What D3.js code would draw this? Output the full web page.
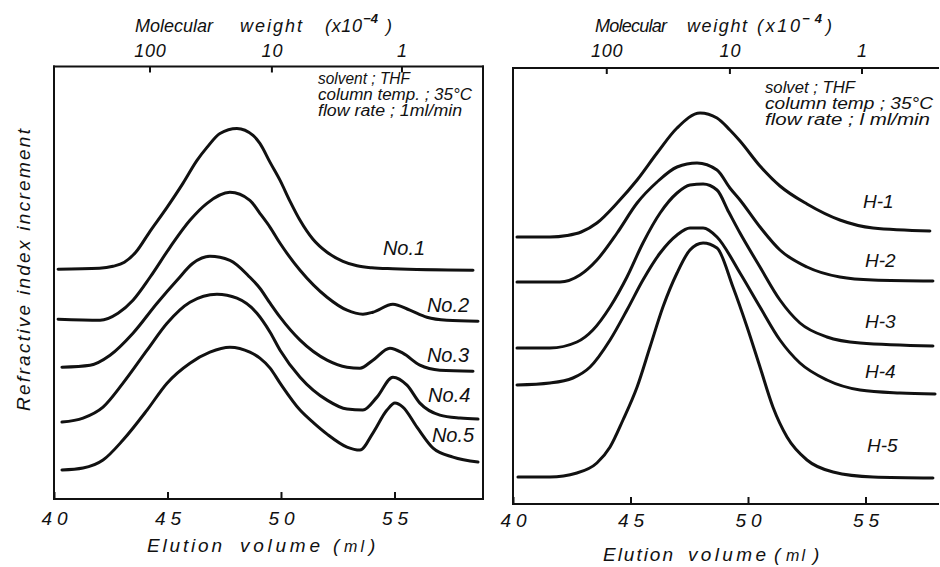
<!DOCTYPE html>
<html><head><meta charset="utf-8">
<script src="https://cdn.jsdelivr.net/npm/d3@7"></script>
<style>
body{margin:0;background:#fff}
text{font-family:"Liberation Sans",Arial,sans-serif;font-style:italic;fill:#111}
</style>
</head><body>
<svg id="chart" width="940" height="567"></svg>
<script>
// ---------- data ----------
const volumeTicks = [40, 45, 50, 55];
const mwTickLabels = ["100", "10", "1"];
const mwTickVolumesLeft = [44.23, 49.60, 55.33];
const mwTickVolumesRight = [43.99, 49.23, 54.85];

const leftNames = ["No.1", "No.2", "No.3", "No.4", "No.5"];
const no1Vol = [40.18, 42.0, 42.6, 43.1, 43.6, 44.23, 44.98, 45.68, 46.30, 46.74, 47.31, 48.06, 48.77, 49.07, 49.52, 49.96, 50.40, 50.84, 51.41, 52.03, 52.73, 53.35, 54.0, 54.93, 58.46];
const no1Val = [46.0, 46.2, 46.6, 47.4, 49.4, 53.6, 58.4, 63.2, 67.8, 70.4, 73.2, 74.2, 72.8, 71.2, 67.4, 63.8, 59.6, 55.8, 52.0, 49.4, 47.6, 46.7, 46.3, 46.1, 45.8];
const no2Vol = [40.18, 42.03, 42.82, 43.48, 44.23, 45.11, 45.99, 46.74, 47.75, 48.63, 49.07, 49.52, 49.96, 50.84, 52.03, 52.91, 53.61, 54.05, 54.93, 55.68, 56.43, 57.31, 58.68];
const no2Val = [36.0, 35.8, 37.2, 39.8, 44.4, 50.4, 55.8, 59.2, 61.4, 59.8, 57.2, 54.4, 51.2, 45.8, 40.4, 37.8, 37.0, 37.4, 39.0, 37.8, 36.4, 35.8, 35.6];
const no3Vol = [40.35, 41.59, 42.47, 43.48, 44.54, 45.42, 46.12, 46.87, 47.75, 48.63, 49.07, 49.52, 49.96, 50.84, 52.03, 52.91, 53.48, 54.05, 54.80, 55.37, 56.12, 57.00, 58.46];
const no3Val = [26.4, 26.8, 28.8, 33.2, 39.2, 43.8, 47.2, 48.6, 47.8, 44.4, 42.2, 39.2, 36.4, 31.8, 27.8, 26.4, 26.2, 27.8, 30.2, 29.2, 26.8, 25.8, 25.6];
const no4Vol = [40.35, 41.28, 42.16, 43.04, 44.10, 44.98, 45.99, 47.18, 48.06, 48.94, 49.52, 49.96, 50.84, 52.03, 52.91, 53.61, 54.23, 54.93, 55.55, 56.12, 57.00, 57.89, 58.68];
const no4Val = [15.4, 16.2, 18.4, 23.2, 29.8, 35.2, 39.4, 41.0, 40.2, 37.2, 33.4, 29.8, 24.4, 19.8, 18.0, 17.8, 20.4, 24.4, 22.8, 19.2, 16.8, 16.2, 16.0];
const no5Vol = [40.35, 41.28, 42.16, 43.04, 44.10, 44.98, 45.99, 46.87, 47.75, 48.63, 49.07, 49.52, 49.96, 50.84, 51.45, 52.03, 52.91, 53.48, 54.05, 54.67, 55.02, 55.37, 55.99, 56.70, 57.58, 58.68];
const no5Val = [5.8, 6.2, 7.8, 11.8, 17.8, 23.2, 27.2, 29.4, 30.4, 29.4, 28.2, 26.2, 23.2, 17.8, 15.2, 13.0, 10.4, 9.8, 13.2, 17.8, 19.2, 18.4, 14.4, 10.2, 8.4, 7.4];

const rightNames = ["H-1", "H-2", "H-3", "H-4", "H-5"];
const h1Vol = [40.17, 41.57, 42.3, 42.9, 43.57, 44.43, 45.28, 46.13, 46.98, 47.96, 48.68, 49.23, 49.66, 50.51, 51.36, 52.51, 53.91, 55.32, 57.74];
const h1Val = [53.4, 53.4, 53.7, 54.4, 56.2, 60.2, 64.8, 70.2, 75.2, 78.2, 77.2, 74.8, 72.6, 67.6, 63.6, 60.0, 56.8, 55.2, 54.6];
const h2Vol = [40.17, 42.0, 42.85, 43.57, 44.43, 45.28, 46.13, 46.98, 47.83, 48.68, 49.23, 49.66, 50.51, 51.36, 52.51, 53.91, 55.32, 57.87];
const h2Val = [44.4, 44.4, 45.8, 48.8, 54.2, 60.2, 64.4, 67.4, 68.2, 66.8, 63.2, 60.8, 55.4, 50.8, 47.4, 45.4, 44.8, 44.6];
const h3Vol = [40.17, 41.57, 42.72, 43.40, 44.13, 44.85, 45.53, 46.26, 46.98, 47.53, 48.09, 48.68, 49.18, 49.66, 50.51, 51.36, 52.21, 53.36, 54.77, 57.87];
const h3Val = [31.2, 31.2, 32.4, 34.8, 39.4, 45.4, 52.2, 58.2, 62.2, 63.8, 64.0, 62.8, 58.4, 54.2, 47.4, 40.8, 36.2, 33.4, 32.2, 31.6];
const h4Vol = [40.17, 41.57, 42.55, 43.28, 44.13, 44.85, 45.53, 46.26, 46.98, 47.53, 48.09, 48.68, 49.66, 50.51, 51.36, 52.21, 53.36, 54.77, 56.47, 57.96];
const h4Val = [23.8, 24.2, 25.2, 27.4, 32.8, 38.8, 44.8, 50.2, 53.8, 55.2, 55.2, 53.4, 46.2, 39.4, 32.8, 28.2, 24.8, 22.8, 22.2, 22.0];
const h5Vol = [40.21, 41.57, 42.72, 43.57, 44.13, 44.68, 45.28, 45.83, 46.38, 46.98, 47.53, 48.09, 48.68, 49.36, 49.96, 50.51, 51.06, 51.66, 52.51, 53.62, 55.32, 57.87];
const h5Val = [5.4, 5.4, 6.2, 8.2, 11.4, 16.8, 23.4, 31.4, 39.4, 46.2, 50.8, 52.2, 51.2, 43.4, 35.4, 27.4, 19.4, 13.4, 8.8, 6.4, 5.4, 5.2];

// ---------- layout ----------
const svg = d3.select("#chart");
const INK = "#111";

const panels = [
  {
    x: d3.scaleLinear().domain([40, 58.9]).range([54, 483]),
    y: d3.scaleLinear().domain([0, 86.6]).range([499, 66.5]),
    rightBorder: true,
    mwVol: mwTickVolumesLeft,
    series: [[no1Vol, no1Val], [no2Vol, no2Val], [no3Vol, no3Val], [no4Vol, no4Val], [no5Vol, no5Val]],
    names: leftNames,
    labelAt: [[54.49, 48.8], [56.43, 37.4], [56.43, 27.4], [56.48, 19.4], [56.65, 11.4]],
    labelSize: 20,
    title: [["Molecular", 135, 78], ["weight", 240, 62], ["(x10", 325, 37]], sup: [363, 15], close: 386,
    legendX: 318, legendY: [84, 100, 116],
    legend: [["solvent ; THF", 92], ["column temp. ; 35\u00B0C", 154], ["flow rate ; 1ml/min", 144]],
    xt: [["Elution", 147, 75, 19], ["volume", 240, 80, 19], ["(", 333, 0, 19], ["ml", 344, 20, 16], [")", 369, 0, 19]],
    xtY: 552, tickLabY: 525
  },
  {
    x: d3.scaleLinear().domain([40, 58.085]).range([513, 938]),
    y: d3.scaleLinear().domain([0, 87.2]).range([504, 68]),
    rightBorder: false,
    mwVol: mwTickVolumesRight,
    series: [[h1Vol, h1Val], [h2Vol, h2Val], [h3Vol, h3Val], [h4Vol, h4Val], [h5Vol, h5Val]],
    names: rightNames,
    labelAt: [[54.89, 59.2], [54.98, 47.4], [54.98, 35.2], [54.98, 25.2], [55.06, 10.4]],
    labelSize: 19,
    title: [["Molecular", 595, 72], ["weight", 687, 60], ["(x10", 757, 43]], sup: [802, 20], close: 826,
    legendX: 765, legendY: [93, 109, 125],
    legend: [["solvet ; THF", 90], ["column temp ; 35\u00B0C", 168], ["flow rate ; l ml/min", 165]],
    xt: [["Elution", 603, 70, 19], ["volume", 688, 78, 19], ["(", 774, 0, 19], ["ml", 786, 19, 16], [")", 813, 0, 19]],
    xtY: 561, tickLabY: 527
  }
];

const line = d3.line().curve(d3.curveMonotoneX);

panels.forEach(p => {
  const g = svg.append("g");
  const [x0, x1] = p.x.range();
  const [yb, yt] = p.y.range();

  // frame
  const frame = [[x0, yt, x0, yb], [x0, yt, x1, yt], [x0, yb, x1, yb]];
  if (p.rightBorder) frame.push([x1, yt, x1, yb]);
  g.selectAll("line.frame").data(frame).join("line").attr("class", "frame")
    .attr("x1", d => d[0]).attr("y1", d => d[1]).attr("x2", d => d[2]).attr("y2", d => d[3])
    .attr("stroke", INK).attr("stroke-width", 2).attr("stroke-linecap", "square");

  // bottom axis (elution volume)
  const ax = g.append("g").attr("transform", `translate(0,${yb})`)
    .call(d3.axisBottom(p.x).tickValues(volumeTicks).tickSize(-7).tickFormat(d => d));
  ax.select(".domain").remove();
  ax.selectAll(".tick line").attr("stroke", INK).attr("stroke-width", 2);
  ax.selectAll(".tick text").attr("y", p.tickLabY - yb).attr("dy", 0)
    .attr("font-size", 19).attr("textLength", 26).attr("lengthAdjust", "spacing")
    .style("font-family", '"Liberation Sans",Arial,sans-serif').style("font-style", "italic").attr("fill", INK);

  // top axis (molecular weight)
  const tg = g.append("g");
  tg.selectAll("line").data(p.mwVol).join("line")
    .attr("x1", d => p.x(d)).attr("x2", d => p.x(d)).attr("y1", yt).attr("y2", yt + 6)
    .attr("stroke", INK).attr("stroke-width", 2);
  tg.selectAll("text").data(mwTickLabels).join("text")
    .attr("x", (d, i) => p.x(p.mwVol[i])).attr("y", 57).attr("text-anchor", "middle")
    .attr("font-size", 18)
    .each(function (d) { if (d.length > 1) d3.select(this).attr("textLength", d.length * 10.5).attr("lengthAdjust", "spacing"); })
    .text(d => d);

  // top title
  p.title.forEach(([t, xx, w]) => {
    g.append("text").attr("x", xx).attr("y", 32).attr("font-size", 18)
      .attr("textLength", w).attr("lengthAdjust", "spacing").text(t);
  });
  g.append("text").attr("x", p.sup[0]).attr("y", 23).attr("font-size", 13)
    .attr("textLength", p.sup[1]).attr("lengthAdjust", "spacing").style("font-weight", "bold").text("\u2212" + "4");
  g.append("text").attr("x", p.close).attr("y", 32).attr("font-size", 18).text(")");

  // bottom title
  p.xt.forEach(([t, xx, w, fs]) => {
    const tx = g.append("text").attr("x", xx).attr("y", p.xtY).attr("font-size", fs).text(t);
    if (w) tx.attr("textLength", w).attr("lengthAdjust", "spacing");
  });

  // legend
  p.legend.forEach(([t, w], i) => {
    g.append("text").attr("x", p.legendX).attr("y", p.legendY[i]).attr("font-size", 16)
      .attr("textLength", w).attr("lengthAdjust", "spacingAndGlyphs").text(t);
  });

  // curves
  g.selectAll("path.curve").data(p.series).join("path").attr("class", "curve")
    .attr("d", s => line(s[0].map((v, i) => [p.x(v), p.y(s[1][i])])))
    .attr("fill", "none").attr("stroke", INK).attr("stroke-width", 3)
    .attr("stroke-linejoin", "round").attr("stroke-linecap", "round");

  // curve labels
  g.selectAll("text.lab").data(p.names).join("text").attr("class", "lab")
    .attr("x", (d, i) => p.x(p.labelAt[i][0])).attr("y", (d, i) => p.y(p.labelAt[i][1]))
    .attr("font-size", p.labelSize).text(d => d);
});

// y-axis title
svg.append("text").attr("transform", "translate(30,270) rotate(-90)")
  .attr("text-anchor", "middle").attr("font-size", 19)
  .attr("textLength", 282).attr("lengthAdjust", "spacing")
  .text("Refractive index increment");
</script>
</body></html>
